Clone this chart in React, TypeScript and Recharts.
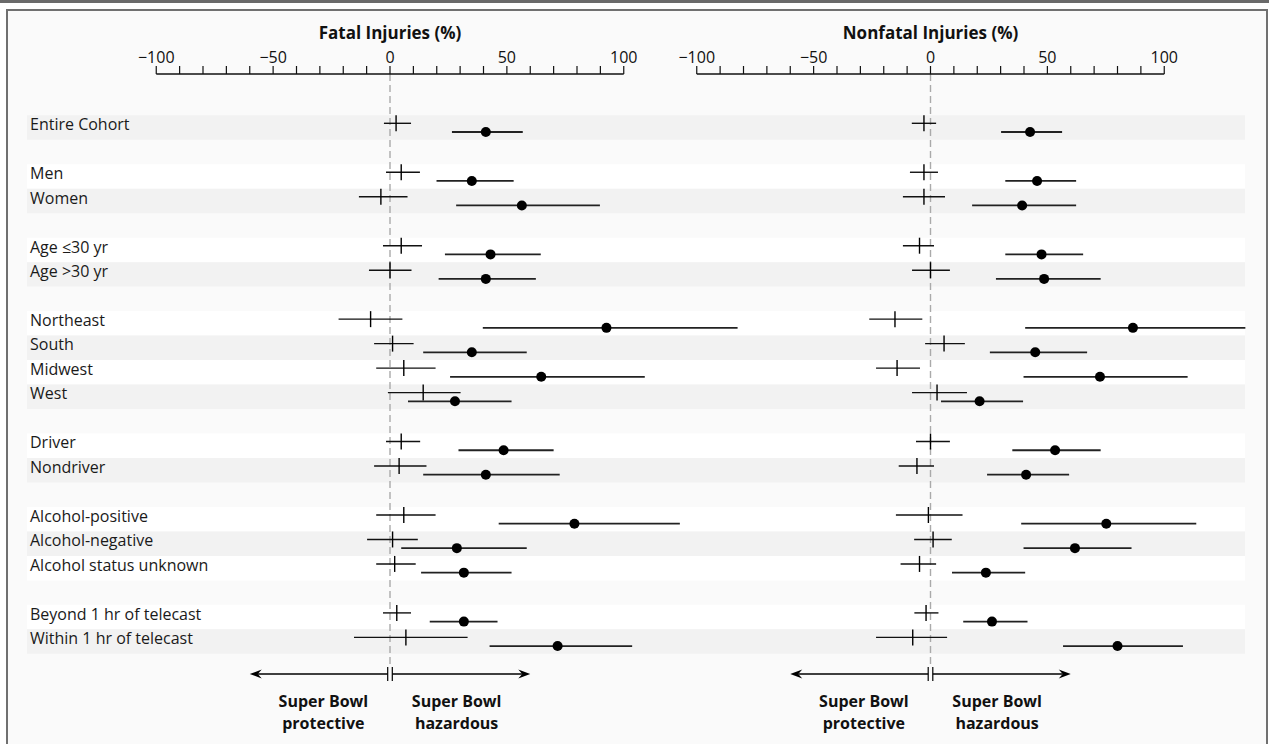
import React from "react";
import {
	ErrorBar,
	ReferenceArea,
	ReferenceLine,
	Scatter,
	ScatterChart,
	XAxis,
	YAxis,
} from "recharts";

// rows, grouped; a blank row separates the groups
const groupSizes = [1, 2, 2, 4, 2, 3, 2];
const rowLabels = [
	"Entire Cohort",
	"Men",
	"Women",
	"Age \u226430 yr",
	"Age >30 yr",
	"Northeast",
	"South",
	"Midwest",
	"West",
	"Driver",
	"Nondriver",
	"Alcohol-positive",
	"Alcohol-negative",
	"Alcohol status unknown",
	"Beyond 1 hr of telecast",
	"Within 1 hr of telecast",
];

// [estimate, low, high] in %
const fatalControl = [
	[2.6, -2.6, 9],
	[4.8, -1.7, 12.8],
	[-3.9, -13.3, 7.5],
	[4.8, -3, 13.7],
	[0, -9, 9.2],
	[-8.3, -22, 5.3],
	[1.1, -6.8, 10.1],
	[5.9, -5.9, 19.5],
	[14.2, -0.9, 30.2],
	[4.8, -1.7, 12.9],
	[3.9, -6.8, 15.6],
	[5.9, -5.9, 19.5],
	[1.1, -9.8, 11.9],
	[2, -5.9, 11],
	[2.9, -3, 9],
	[6.8, -15.4, 33.2],
];
const fatalSuperBowl = [
	[41, 26.5, 56.8],
	[35, 19.9, 52.9],
	[56.4, 28.3, 89.8],
	[43, 23.5, 64.5],
	[41, 20.8, 62.4],
	[92.6, 39.7, 148.7],
	[35, 14.2, 58.5],
	[64.7, 25.7, 109],
	[27.8, 7.7, 52],
	[48.6, 29.3, 70],
	[41, 14.2, 72.6],
	[78.9, 46.5, 124],
	[28.6, 4.8, 58.5],
	[31.6, 13.3, 52],
	[31.6, 17, 46],
	[71.7, 42.6, 103.6],
];
const nonfatalControl = [
	[-2.8, -8, 2.4],
	[-2.8, -8.8, 3.2],
	[-2.8, -11.8, 6.2],
	[-4.7, -11.8, 1.5],
	[0, -7.9, 8.3],
	[-15.2, -26.2, -3.5],
	[5.8, -2.3, 14.7],
	[-14.3, -23.3, -4.5],
	[2.8, -7.9, 15.6],
	[0, -6.2, 8.3],
	[-5.8, -13.6, 1.5],
	[-0.9, -14.8, 13.7],
	[1.1, -7, 9.1],
	[-4.7, -12.8, 2.4],
	[-1.9, -6.9, 3.4],
	[-7.6, -23.3, 7.1],
];
const nonfatalSuperBowl = [
	[42.6, 30.2, 56.3],
	[45.6, 32, 62.3],
	[39.2, 17.8, 62.3],
	[47.5, 32, 65.3],
	[48.6, 28, 72.8],
	[86.6, 40.5, 134.7],
	[44.8, 25.4, 67],
	[72.5, 39.8, 110],
	[21, 4.5, 39.6],
	[53.3, 35, 72.8],
	[40.9, 24.2, 59.3],
	[75.2, 38.8, 113.7],
	[61.8, 39.8, 86],
	[23.7, 9.2, 40.5],
	[26.3, 14, 41.5],
	[80, 56.7, 108],
];

const xTicks = [
	-100, -90, -80, -70, -60, -50, -40, -30, -20, -10, 0, 10, 20, 30, 40, 50, 60,
	70, 80, 90, 100,
];
const arrowLabels = [
	["Super Bowl", "protective"],
	["Super Bowl", "hazardous"],
];

// layout
const W = 1269;
const H = 744;
const PLOT_LEFT = 27;
const PLOT_RIGHT = 1245;
const AXIS_Y = 74;
const PX_PER_UNIT = 2.3375;
const FIRST_ROW_Y = 127.5;
const ROW_PITCH = 24.48;
const CROSS_DY = -4.2;
const DOT_DY = 4.5;
const ARROW_Y = 674;
const ARROW_SPAN = 60;
const FONT = "'Open Sans', sans-serif";

const rows: { slot: number; label: string; shade: string }[] = [];
{
	let slot = 0;
	let idx = 0;
	groupSizes.forEach((n) => {
		for (let i = 0; i < n; i++) {
			rows.push({
				slot,
				label: rowLabels[idx],
				shade: n === 1 || i % 2 === 1 ? "#f2f2f2" : "#ffffff",
			});
			slot++;
			idx++;
		}
		slot++;
	});
}
const labelBySlot: Record<number, string> = {};
rows.forEach((r) => {
	labelBySlot[r.slot] = r.label;
});

const yDomain = (dy: number): [number, number] => [
	(AXIS_Y - FIRST_ROW_Y - dy) / ROW_PITCH,
	(H - FIRST_ROW_Y - dy) / ROW_PITCH,
];
const pxToRow = (y: number) => (y - FIRST_ROW_Y) / ROW_PITCH;

const tickText = (v: number) => {
	if (v % 50 !== 0) return "";
	return v < 0 ? `\u2212${-v}` : `${v}`;
};

const toPoints = (values: number[][]) =>
	rows.map((r, i) => ({
		slot: r.slot,
		est: values[i][0],
		err: [values[i][0] - values[i][1], values[i][2] - values[i][0]],
	}));

function RowLabel(props: any) {
	const { x, y, payload } = props;
	return (
		<text x={x} y={y - 3} dy="0.35em" textAnchor="start" fontSize={16} fill="#1a1a1a">
			{labelBySlot[payload.value] ?? ""}
		</text>
	);
}

function Arrow(props: any) {
	const { x1, y1, x2, lines } = props;
	const dir = x2 > x1 ? 1 : -1;
	const start = x1 + dir * 2.3;
	const mid = x1 + (x2 - x1) * 0.475;
	return (
		<g>
			<line x1={start} y1={y1 - 7} x2={start} y2={y1 + 7} stroke="#000" strokeWidth={1.2} />
			<line x1={start} y1={y1} x2={x2 - dir * 8} y2={y1} stroke="#000" strokeWidth={1.5} />
			<path
				d={`M${x2},${y1} L${x2 - dir * 12},${y1 - 4.5} L${x2 - dir * 8},${y1} L${x2 - dir * 12},${y1 + 4.5} Z`}
				fill="#000"
			/>
			<text x={mid} y={y1 + 32.5} textAnchor="middle" fontSize={16} fontWeight={700} fill="#111">
				{lines[0]}
			</text>
			<text x={mid} y={y1 + 54.5} textAnchor="middle" fontSize={16} fontWeight={700} fill="#111">
				{lines[1]}
			</text>
		</g>
	);
}

interface PanelProps {
	title: string;
	zeroPx: number;
	control: number[][];
	superBowl: number[][];
	showLabels: boolean;
}

function Panel({ title, zeroPx, control, superBowl, showLabels }: PanelProps) {
	const xDomain = [
		(PLOT_LEFT - zeroPx) / PX_PER_UNIT,
		(PLOT_RIGHT - zeroPx) / PX_PER_UNIT,
	];
	const rowDomain = yDomain(0);
	const arrowRow = pxToRow(ARROW_Y);

	return (
		<ScatterChart
			width={W}
			height={H}
			margin={{ top: 0, right: W - PLOT_RIGHT, bottom: 0, left: PLOT_LEFT }}
			style={{ fontFamily: FONT }}
		>
			<XAxis
				type="number"
				dataKey="est"
				orientation="top"
				domain={xDomain}
				allowDataOverflow
				ticks={xTicks}
				interval={0}
				height={AXIS_Y}
				tickSize={8}
				tickMargin={3}
				axisLine={false}
				tickLine={{ stroke: "#111", strokeWidth: 1.2 }}
				tick={{ fontSize: 16, fill: "#111" }}
				tickFormatter={tickText}
			/>
			<YAxis
				yAxisId="row"
				type="number"
				dataKey="slot"
				domain={rowDomain}
				reversed
				allowDataOverflow
				hide={!showLabels}
				mirror
				ticks={rows.map((r) => r.slot)}
				interval={0}
				axisLine={false}
				tickLine={false}
				tickSize={0}
				tickMargin={3}
				tick={<RowLabel />}
			/>
			<YAxis yAxisId="cross" type="number" dataKey="slot" domain={yDomain(CROSS_DY)} reversed allowDataOverflow hide />
			<YAxis yAxisId="dot" type="number" dataKey="slot" domain={yDomain(DOT_DY)} reversed allowDataOverflow hide />

			{showLabels &&
				rows.map((r) => (
					<ReferenceArea
						key={`band-${r.slot}`}
						yAxisId="row"
						y1={r.slot - 0.5}
						y2={r.slot + 0.5}
						fill={r.shade}
						fillOpacity={1}
						stroke="none"
						ifOverflow="visible"
					/>
				))}

			<ReferenceLine
				yAxisId="row"
				segment={[
					{ x: 0, y: rowDomain[0] },
					{ x: 0, y: pxToRow(ARROW_Y - 7) },
				]}
				stroke="#aaaaaa"
				strokeWidth={1.4}
				strokeDasharray="7 4"
				ifOverflow="visible"
			/>
			<ReferenceLine
				yAxisId="row"
				segment={[
					{ x: -100, y: rowDomain[0] },
					{ x: 100, y: rowDomain[0] },
				]}
				stroke="#111"
				strokeWidth={1.5}
				ifOverflow="visible"
				label={{
					value: title,
					position: "top",
					offset: 35,
					fontSize: 17,
					fontWeight: 700,
					fill: "#111",
				}}
			/>
			<ReferenceLine
				yAxisId="row"
				segment={[
					{ x: 0, y: arrowRow },
					{ x: -ARROW_SPAN, y: arrowRow },
				]}
				ifOverflow="visible"
				shape={(p: any) => <Arrow {...p} lines={arrowLabels[0]} />}
			/>
			<ReferenceLine
				yAxisId="row"
				segment={[
					{ x: 0, y: arrowRow },
					{ x: ARROW_SPAN, y: arrowRow },
				]}
				ifOverflow="visible"
				shape={(p: any) => <Arrow {...p} lines={arrowLabels[1]} />}
			/>

			<Scatter
				yAxisId="cross"
				data={toPoints(control)}
				isAnimationActive={false}
				shape={(p: any) => (
					<line x1={p.cx} x2={p.cx} y1={p.cy - 8} y2={p.cy + 8} stroke="#000" strokeWidth={1.4} />
				)}
			>
				<ErrorBar dataKey="err" direction="x" width={0} stroke="#111" strokeWidth={1.4} isAnimationActive={false} />
			</Scatter>
			<Scatter
				yAxisId="dot"
				data={toPoints(superBowl)}
				isAnimationActive={false}
				shape={(p: any) => <circle cx={p.cx} cy={p.cy} r={5} fill="#000" />}
			>
				<ErrorBar dataKey="err" direction="x" width={0} stroke="#222" strokeWidth={1.8} isAnimationActive={false} />
			</Scatter>
		</ScatterChart>
	);
}

export default function App() {
	return (
		<div
			style={{
				position: "absolute",
				left: 0,
				top: 0,
				width: W,
				height: H,
				overflow: "hidden",
				background: "#fff",
				fontFamily: FONT,
			}}
		>
			<div style={{ position: "absolute", left: 0, top: 0, width: W, height: 3, background: "#6a6a6a" }} />
			<div
				style={{
					position: "absolute",
					left: 6,
					top: 9,
					width: 1262,
					height: H,
					boxSizing: "border-box",
					border: "2px solid #707070",
					borderBottom: "none",
					background: "#fafafa",
				}}
			/>
			<div style={{ position: "absolute", left: 0, top: 0 }}>
				<Panel
					title="Fatal Injuries (%)"
					zeroPx={390}
					control={fatalControl}
					superBowl={fatalSuperBowl}
					showLabels
				/>
			</div>
			<div style={{ position: "absolute", left: 0, top: 0 }}>
				<Panel
					title="Nonfatal Injuries (%)"
					zeroPx={930.5}
					control={nonfatalControl}
					superBowl={nonfatalSuperBowl}
					showLabels={false}
				/>
			</div>
		</div>
	);
}
